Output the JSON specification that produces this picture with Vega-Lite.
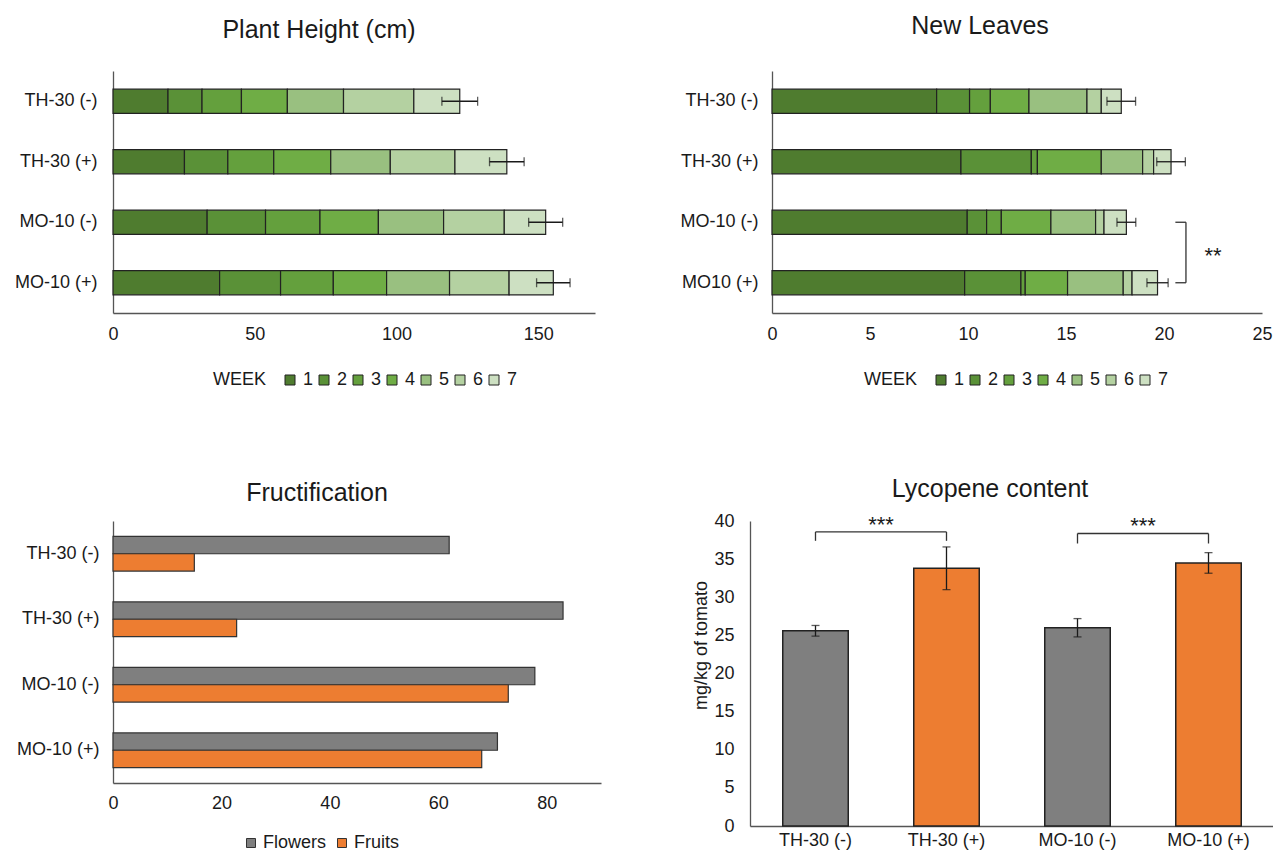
{
  "$schema": "https://vega.github.io/schema/vega-lite/v6.json",
  "background": "white",
  "padding": {"left": 14, "top": 14, "right": 0, "bottom": 0},
  "datasets": {
    "height": [
      {"treatment": "TH-30 (-)", "week": "1", "value": 19.4},
      {"treatment": "TH-30 (-)", "week": "2", "value": 12.0},
      {"treatment": "TH-30 (-)", "week": "3", "value": 13.9},
      {"treatment": "TH-30 (-)", "week": "4", "value": 16.2},
      {"treatment": "TH-30 (-)", "week": "5", "value": 19.8},
      {"treatment": "TH-30 (-)", "week": "6", "value": 24.8},
      {"treatment": "TH-30 (-)", "week": "7", "value": 16.2},
      {"treatment": "TH-30 (+)", "week": "1", "value": 25.2},
      {"treatment": "TH-30 (+)", "week": "2", "value": 15.3},
      {"treatment": "TH-30 (+)", "week": "3", "value": 16.2},
      {"treatment": "TH-30 (+)", "week": "4", "value": 20.1},
      {"treatment": "TH-30 (+)", "week": "5", "value": 21.0},
      {"treatment": "TH-30 (+)", "week": "6", "value": 22.8},
      {"treatment": "TH-30 (+)", "week": "7", "value": 18.3},
      {"treatment": "MO-10 (-)", "week": "1", "value": 33.2},
      {"treatment": "MO-10 (-)", "week": "2", "value": 20.6},
      {"treatment": "MO-10 (-)", "week": "3", "value": 19.2},
      {"treatment": "MO-10 (-)", "week": "4", "value": 20.6},
      {"treatment": "MO-10 (-)", "week": "5", "value": 23.0},
      {"treatment": "MO-10 (-)", "week": "6", "value": 21.4},
      {"treatment": "MO-10 (-)", "week": "7", "value": 14.6},
      {"treatment": "MO-10 (+)", "week": "1", "value": 37.6},
      {"treatment": "MO-10 (+)", "week": "2", "value": 21.5},
      {"treatment": "MO-10 (+)", "week": "3", "value": 18.6},
      {"treatment": "MO-10 (+)", "week": "4", "value": 18.8},
      {"treatment": "MO-10 (+)", "week": "5", "value": 22.2},
      {"treatment": "MO-10 (+)", "week": "6", "value": 21.0},
      {"treatment": "MO-10 (+)", "week": "7", "value": 15.6}
    ],
    "heightTot": [
      {"treatment": "TH-30 (-)", "total": 122.3, "err": 6.3},
      {"treatment": "TH-30 (+)", "total": 138.9, "err": 6.1},
      {"treatment": "MO-10 (-)", "total": 152.6, "err": 6.0},
      {"treatment": "MO-10 (+)", "total": 155.3, "err": 5.9}
    ],
    "leaves": [
      {"treatment": "TH-30 (-)", "week": "1", "value": 8.40},
      {"treatment": "TH-30 (-)", "week": "2", "value": 1.68},
      {"treatment": "TH-30 (-)", "week": "3", "value": 1.06},
      {"treatment": "TH-30 (-)", "week": "4", "value": 1.97},
      {"treatment": "TH-30 (-)", "week": "5", "value": 2.96},
      {"treatment": "TH-30 (-)", "week": "6", "value": 0.73},
      {"treatment": "TH-30 (-)", "week": "7", "value": 1.02},
      {"treatment": "TH-30 (+)", "week": "1", "value": 9.64},
      {"treatment": "TH-30 (+)", "week": "2", "value": 3.59},
      {"treatment": "TH-30 (+)", "week": "3", "value": 0.31},
      {"treatment": "TH-30 (+)", "week": "4", "value": 3.26},
      {"treatment": "TH-30 (+)", "week": "5", "value": 2.11},
      {"treatment": "TH-30 (+)", "week": "6", "value": 0.56},
      {"treatment": "TH-30 (+)", "week": "7", "value": 0.89},
      {"treatment": "MO-10 (-)", "week": "1", "value": 9.96},
      {"treatment": "MO-10 (-)", "week": "2", "value": 0.99},
      {"treatment": "MO-10 (-)", "week": "3", "value": 0.75},
      {"treatment": "MO-10 (-)", "week": "4", "value": 2.53},
      {"treatment": "MO-10 (-)", "week": "5", "value": 2.28},
      {"treatment": "MO-10 (-)", "week": "6", "value": 0.43},
      {"treatment": "MO-10 (-)", "week": "7", "value": 1.14},
      {"treatment": "MO10 (+)", "week": "1", "value": 9.83},
      {"treatment": "MO10 (+)", "week": "2", "value": 2.87},
      {"treatment": "MO10 (+)", "week": "3", "value": 0.22},
      {"treatment": "MO10 (+)", "week": "4", "value": 2.16},
      {"treatment": "MO10 (+)", "week": "5", "value": 2.84},
      {"treatment": "MO10 (+)", "week": "6", "value": 0.45},
      {"treatment": "MO10 (+)", "week": "7", "value": 1.30}
    ],
    "leavesTot": [
      {"treatment": "TH-30 (-)", "total": 17.82, "err": 0.73},
      {"treatment": "TH-30 (+)", "total": 20.36, "err": 0.73},
      {"treatment": "MO-10 (-)", "total": 18.08, "err": 0.48},
      {"treatment": "MO10 (+)", "total": 19.67, "err": 0.54}
    ],
    "leavesBr": [
      {"a": "MO-10 (-)", "b": "MO10 (+)", "x": 21.12, "xs": 20.58, "tx": 22.5, "label": "**"}
    ],
    "fruct": [
      {"treatment": "TH-30 (-)", "type": "Flowers", "count": 62.0},
      {"treatment": "TH-30 (-)", "type": "Fruits", "count": 15.0},
      {"treatment": "TH-30 (+)", "type": "Flowers", "count": 83.0},
      {"treatment": "TH-30 (+)", "type": "Fruits", "count": 22.8},
      {"treatment": "MO-10 (-)", "type": "Flowers", "count": 77.8},
      {"treatment": "MO-10 (-)", "type": "Fruits", "count": 72.9},
      {"treatment": "MO-10 (+)", "type": "Flowers", "count": 70.9},
      {"treatment": "MO-10 (+)", "type": "Fruits", "count": 68.0}
    ],
    "lyco": [
      {"treatment": "TH-30 (-)", "sign": "-", "value": 25.6, "err": 0.7},
      {"treatment": "TH-30 (+)", "sign": "+", "value": 33.8, "err": 2.8},
      {"treatment": "MO-10 (-)", "sign": "-", "value": 26.0, "err": 1.2},
      {"treatment": "MO-10 (+)", "sign": "+", "value": 34.5, "err": 1.35}
    ],
    "lycoBr": [
      {"from": "TH-30 (-)", "to": "TH-30 (+)", "y": 38.57, "ylo": 37.4, "ty": 38.6, "label": "***"},
      {"from": "MO-10 (-)", "to": "MO-10 (+)", "y": 38.36, "ylo": 37.05, "ty": 38.4, "label": "***"}
    ]
  },
  "spacing": 450,
  "bounds": "flush",
  "resolve": {"scale": {"color": "independent", "x": "independent", "y": "independent"}, "legend": {"color": "independent"}},
  "vconcat": [
    {
      "spacing": 177,
      "bounds": "flush",
      "resolve": {"scale": {"color": "independent", "x": "independent", "y": "independent"}, "legend": {"color": "independent"}},
      "hconcat": [
        {
          "width": 482,
          "height": 242,
          "title": {"text": "Plant Height (cm)", "dx": -35, "offset": 28},
          "layer": [
            {
              "data": {"name": "height"},
              "mark": {"type": "bar", "stroke": "#222222", "strokeWidth": 1.2},
              "encoding": {
                "y": {"field": "treatment", "type": "nominal", "sort": null, "scale": {"domain": ["TH-30 (-)", "TH-30 (+)", "MO-10 (-)", "MO-10 (+)"], "paddingInner": 0.6, "paddingOuter": 0.3}, "axis": {"title": null, "labelPadding": 16}},
                "x": {"field": "value", "type": "quantitative", "stack": "zero", "scale": {"domain": [0, 170], "nice": false}, "axis": {"title": null, "values": [0, 50, 100, 150], "labelPadding": 12}},
                "color": {"field": "week", "type": "nominal", "scale": {"domain": ["1", "2", "3", "4", "5", "6", "7"], "range": ["#4f7c2f", "#5a9137", "#64a03d", "#6fad45", "#99c080", "#b4d1a1", "#cde0c2"]},
                  "legend": {"title": "WEEK", "orient": "none", "legendX": 100, "legendY": 300, "direction": "horizontal", "titleOrient": "left", "titlePadding": 14, "symbolType": "square", "symbolSize": 100, "symbolStrokeColor": "#222222", "symbolStrokeWidth": 1, "labelOffset": 4, "columnPadding": 1}}
              }
            },
            {
              "data": {"name": "heightTot"},
              "mark": {"type": "errorbar", "ticks": true, "color": "#1a1a1a", "size": 9, "thickness": 1.3},
              "encoding": {
                "y": {"field": "treatment", "type": "nominal", "sort": null},
                "x": {"field": "total", "type": "quantitative", "title": null},
                "xError": {"field": "err"}
              }
            }
          ]
        },
        {
          "width": 490,
          "height": 242,
          "title": {"text": "New Leaves", "dx": -37, "offset": 32},
          "layer": [
            {
              "data": {"name": "leaves"},
              "mark": {"type": "bar", "stroke": "#222222", "strokeWidth": 1.2},
              "encoding": {
                "y": {"field": "treatment", "type": "nominal", "sort": null, "scale": {"domain": ["TH-30 (-)", "TH-30 (+)", "MO-10 (-)", "MO10 (+)"], "paddingInner": 0.6, "paddingOuter": 0.3}, "axis": {"title": null, "labelPadding": 14}},
                "x": {"field": "value", "type": "quantitative", "stack": "zero", "scale": {"domain": [0, 25], "nice": false}, "axis": {"title": null, "values": [0, 5, 10, 15, 20, 25], "labelPadding": 12}},
                "color": {"field": "week", "type": "nominal", "scale": {"domain": ["1", "2", "3", "4", "5", "6", "7"], "range": ["#4f7c2f", "#5a9137", "#64a03d", "#6fad45", "#99c080", "#b4d1a1", "#cde0c2"]},
                  "legend": {"title": "WEEK", "orient": "none", "legendX": 92, "legendY": 300, "direction": "horizontal", "titleOrient": "left", "titlePadding": 14, "symbolType": "square", "symbolSize": 100, "symbolStrokeColor": "#222222", "symbolStrokeWidth": 1, "labelOffset": 4, "columnPadding": 1}}
              }
            },
            {
              "data": {"name": "leavesTot"},
              "mark": {"type": "errorbar", "ticks": true, "color": "#1a1a1a", "size": 9, "thickness": 1.3},
              "encoding": {
                "y": {"field": "treatment", "type": "nominal", "sort": null},
                "x": {"field": "total", "type": "quantitative", "title": null},
                "xError": {"field": "err"}
              }
            },
            {
              "data": {"name": "leavesBr"},
              "mark": {"type": "rule", "color": "#333333", "strokeWidth": 1.3},
              "encoding": {
                "x": {"field": "x", "type": "quantitative"},
                "y": {"field": "a", "type": "nominal", "sort": null},
                "y2": {"field": "b"}
              }
            },
            {
              "data": {"name": "leavesBr"},
              "mark": {"type": "rule", "color": "#333333", "strokeWidth": 1.3},
              "encoding": {
                "x": {"field": "xs", "type": "quantitative"},
                "x2": {"field": "x"},
                "y": {"field": "a", "type": "nominal", "sort": null}
              }
            },
            {
              "data": {"name": "leavesBr"},
              "mark": {"type": "rule", "color": "#333333", "strokeWidth": 1.3},
              "encoding": {
                "x": {"field": "xs", "type": "quantitative"},
                "x2": {"field": "x"},
                "y": {"field": "b", "type": "nominal", "sort": null}
              }
            },
            {
              "data": {"name": "leavesBr"},
              "mark": {"type": "text", "fontSize": 22, "baseline": "middle", "align": "center", "color": "#1a1a1a"},
              "encoding": {
                "x": {"field": "tx", "type": "quantitative"},
                "y": {"field": "a", "type": "nominal", "sort": null, "bandPosition": 1.9},
                "text": {"field": "label"}
              }
            }
          ]
        }
      ]
    },
    {
      "spacing": 149,
      "bounds": "flush",
      "resolve": {"scale": {"color": "independent", "x": "independent", "y": "independent"}, "legend": {"color": "independent"}},
      "hconcat": [
        {
          "width": 488,
          "height": 262,
          "title": {"text": "Fructification", "dx": -40, "offset": 15},
          "data": {"name": "fruct"},
          "mark": {"type": "bar", "stroke": "#333333", "strokeWidth": 1.2},
          "encoding": {
            "y": {"field": "treatment", "type": "nominal", "sort": null, "scale": {"domain": ["TH-30 (-)", "TH-30 (+)", "MO-10 (-)", "MO-10 (+)"], "paddingInner": 0.47, "paddingOuter": 0.235}, "axis": {"title": null, "labelPadding": 14}},
            "yOffset": {"field": "type", "type": "nominal", "sort": ["Flowers", "Fruits"]},
            "x": {"field": "count", "type": "quantitative", "scale": {"domain": [0, 90], "nice": false}, "axis": {"title": null, "values": [0, 20, 40, 60, 80], "labelPadding": 11}},
            "color": {"field": "type", "type": "nominal", "scale": {"domain": ["Flowers", "Fruits"], "range": ["#7f7f7f", "#ed7d31"]},
              "legend": {"title": null, "orient": "none", "legendX": 129, "legendY": 313, "direction": "horizontal", "symbolType": "square", "symbolSize": 81, "symbolStrokeColor": "#333333", "symbolStrokeWidth": 1, "labelOffset": 3, "columnPadding": 6}}
          }
        },
        {
          "width": 524,
          "height": 305,
          "title": {"text": "Lycopene content", "dx": -22, "offset": 10},
          "resolve": {"axis": {"y": "independent"}},
          "layer": [
            {
              "data": {"name": "lyco"},
              "mark": {"type": "bar", "stroke": "#222222", "strokeWidth": 1.5},
              "encoding": {
                "x": {"field": "treatment", "type": "nominal", "sort": null, "scale": {"domain": ["TH-30 (-)", "TH-30 (+)", "MO-10 (-)", "MO-10 (+)"], "paddingInner": 0.5, "paddingOuter": 0.25}, "axis": {"title": null, "labelAngle": 0, "labelPadding": 5}},
                "y": {"field": "value", "type": "quantitative", "scale": {"domain": [0, 40], "nice": false}, "axis": {"title": "mg/kg of tomato", "values": [0, 5, 10, 15, 20, 25, 30, 35, 40], "labelOverlap": false, "labelPadding": 16, "titleFontSize": 18, "titlePadding": 3, "titleY": 124}},
                "color": {"field": "sign", "type": "nominal", "scale": {"domain": ["-", "+"], "range": ["#7f7f7f", "#ed7d31"]}, "legend": null}
              }
            },
            {
              "data": {"name": "lyco"},
              "mark": {"type": "errorbar", "ticks": true, "color": "#1a1a1a", "size": 8, "thickness": 1.3},
              "encoding": {
                "x": {"field": "treatment", "type": "nominal", "sort": null},
                "y": {"field": "value", "type": "quantitative", "axis": null},
                "yError": {"field": "err"}
              }
            },
            {
              "data": {"name": "lycoBr"},
              "mark": {"type": "rule", "color": "#333333", "strokeWidth": 1.3},
              "encoding": {
                "x": {"field": "from", "type": "nominal", "sort": null},
                "x2": {"field": "to"},
                "y": {"field": "y", "type": "quantitative", "axis": null}
              }
            },
            {
              "data": {"name": "lycoBr"},
              "mark": {"type": "rule", "color": "#333333", "strokeWidth": 1.3},
              "encoding": {
                "x": {"field": "from", "type": "nominal", "sort": null},
                "y": {"field": "ylo", "type": "quantitative", "axis": null},
                "y2": {"field": "y"}
              }
            },
            {
              "data": {"name": "lycoBr"},
              "mark": {"type": "rule", "color": "#333333", "strokeWidth": 1.3},
              "encoding": {
                "x": {"field": "to", "type": "nominal", "sort": null},
                "y": {"field": "ylo", "type": "quantitative", "axis": null},
                "y2": {"field": "y"}
              }
            },
            {
              "data": {"name": "lycoBr"},
              "mark": {"type": "text", "fontSize": 22, "baseline": "alphabetic", "align": "center", "color": "#1a1a1a"},
              "encoding": {
                "x": {"field": "from", "type": "nominal", "sort": null, "bandPosition": 1.5},
                "y": {"field": "ty", "type": "quantitative", "axis": null},
                "text": {"field": "label"}
              }
            }
          ]
        }
      ]
    }
  ],
  "config": {
    "font": "Liberation Sans",
    "view": {"stroke": null},
    "title": {"fontSize": 25, "fontWeight": "normal", "color": "#1a1a1a", "anchor": "middle"},
    "axis": {"ticks": false, "grid": false, "labelFlush": false, "domainColor": "#555555", "domainWidth": 1.3, "labelFontSize": 18, "labelColor": "#1a1a1a", "titleFontWeight": "normal", "titleColor": "#1a1a1a", "labelFont": "Liberation Sans", "titleFont": "Liberation Sans"},
    "legend": {"labelFontSize": 18, "titleFontSize": 18, "titleFontWeight": "normal", "labelColor": "#1a1a1a", "titleColor": "#1a1a1a", "labelFont": "Liberation Sans", "titleFont": "Liberation Sans"}
  }
}
